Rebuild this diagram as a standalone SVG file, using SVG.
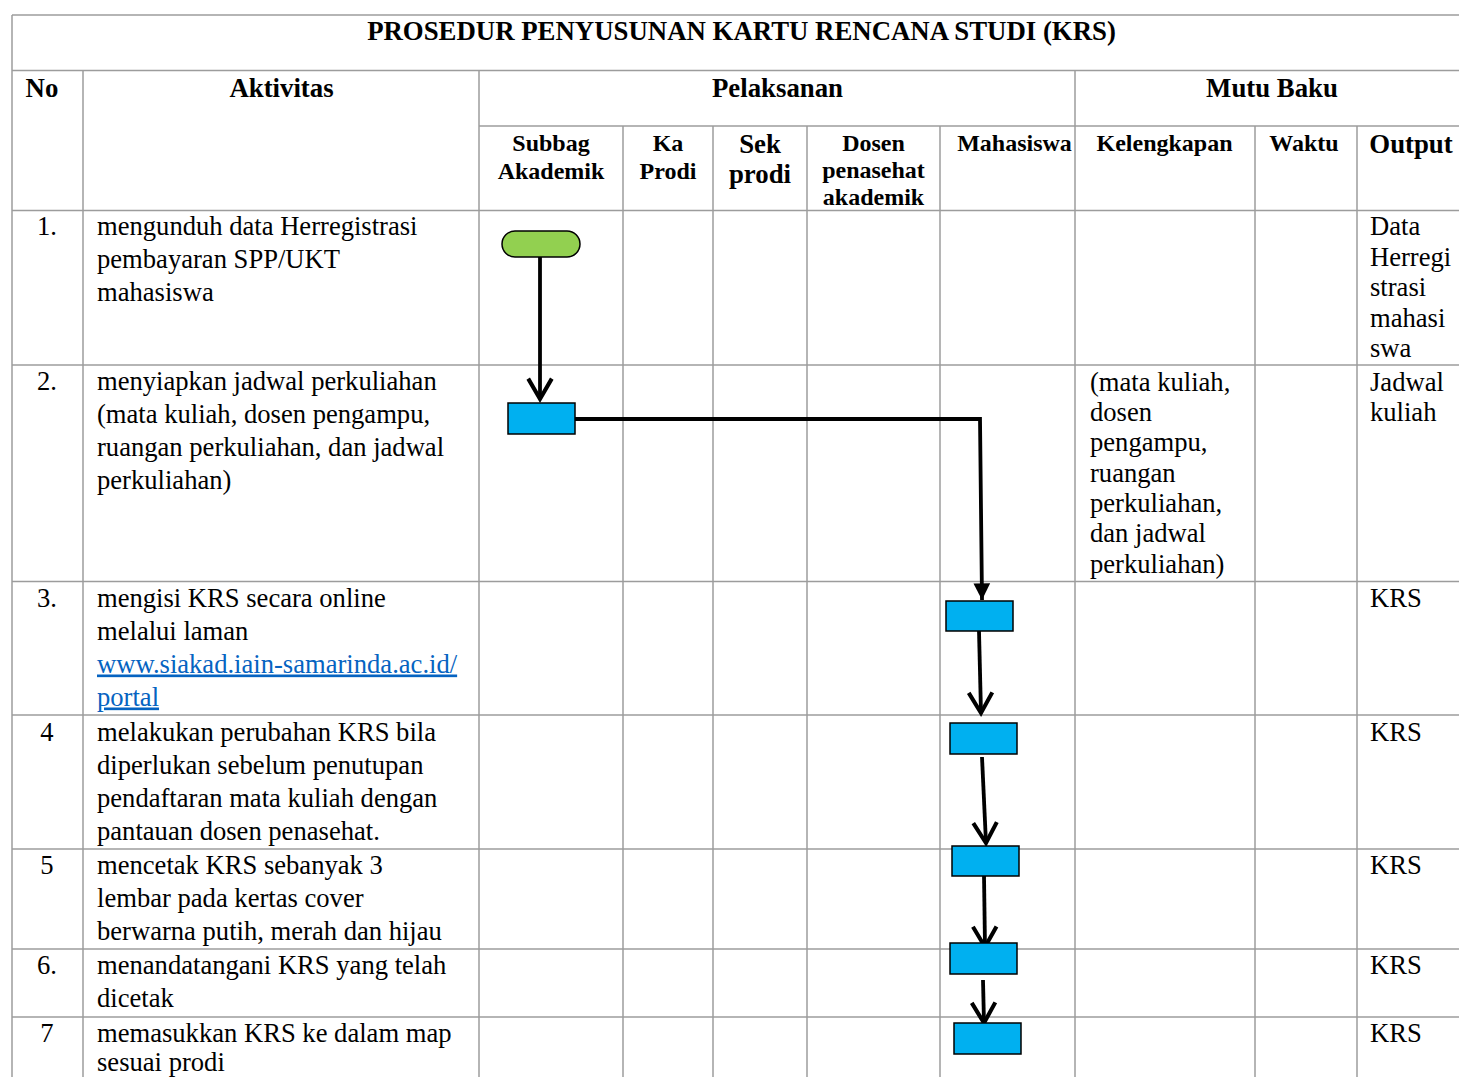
<svg xmlns="http://www.w3.org/2000/svg" width="1459" height="1077" viewBox="0 0 1459 1077">
<style>
.grid line{stroke:#9c9c9c;stroke-width:1.5}
text{font-family:"Liberation Serif","Times New Roman",serif;fill:#000}
.t{font-size:26.6px}
.h{font-size:26.8px;font-weight:bold}
.hs{font-size:24px;font-weight:bold}
.c{text-anchor:middle}
.link{fill:#0563C1;text-decoration:underline}
.proc{fill:#00B0F0;stroke:#000;stroke-width:1.5}
.term{fill:#92D050;stroke:#000;stroke-width:1.5}
.conn{fill:none;stroke:#000;stroke-width:3.8}
</style>
<defs>
<marker id="open" markerUnits="userSpaceOnUse" markerWidth="30" markerHeight="30" refX="0" refY="0" orient="auto" viewBox="-22 -14 26 28" overflow="visible">
<path d="M-19,-11 L0,0 L-19,11" fill="none" stroke="#000" stroke-width="3.8"/>
</marker>
<marker id="solid" markerUnits="userSpaceOnUse" markerWidth="20" markerHeight="20" refX="0" refY="0" orient="auto" viewBox="-16 -9 18 18" overflow="visible">
<path d="M-15,-7.5 L0,0 L-15,7.5 Z" fill="#000"/>
</marker>
</defs>
<rect width="1459" height="1077" fill="#fff"/>
<g class="grid">
<line x1="12" y1="15" x2="1459" y2="15"/>
<line x1="12" y1="70.5" x2="1459" y2="70.5"/>
<line x1="479" y1="126" x2="1459" y2="126"/>
<line x1="12" y1="210.5" x2="1459" y2="210.5"/>
<line x1="12" y1="365" x2="1459" y2="365"/>
<line x1="12" y1="581.5" x2="1459" y2="581.5"/>
<line x1="12" y1="715" x2="1459" y2="715"/>
<line x1="12" y1="849" x2="1459" y2="849"/>
<line x1="12" y1="949" x2="1459" y2="949"/>
<line x1="12" y1="1017" x2="1459" y2="1017"/>
<line x1="12" y1="15" x2="12" y2="1077"/>
<line x1="83" y1="70.5" x2="83" y2="1077"/>
<line x1="479" y1="70.5" x2="479" y2="1077"/>
<line x1="1075" y1="70.5" x2="1075" y2="1077"/>
<line x1="623" y1="126" x2="623" y2="1077"/>
<line x1="713" y1="126" x2="713" y2="1077"/>
<line x1="807" y1="126" x2="807" y2="1077"/>
<line x1="940" y1="126" x2="940" y2="1077"/>
<line x1="1255" y1="126" x2="1255" y2="1077"/>
<line x1="1357" y1="126" x2="1357" y2="1077"/>
</g>
<g id="header">
<text class="h c" x="741.5" y="39.5">PROSEDUR PENYUSUNAN KARTU RENCANA STUDI (KRS)</text>
<text class="h c" x="42" y="96.5">No</text>
<text class="h c" x="281.5" y="96.5">Aktivitas</text>
<text class="h c" x="777.5" y="96.5">Pelaksanan</text>
<text class="h c" x="1272" y="96.5">Mutu Baku</text>
<text class="hs c" x="551" y="151">Subbag</text>
<text class="hs c" x="551" y="179">Akademik</text>
<text class="hs c" x="668" y="151">Ka</text>
<text class="hs c" x="668" y="179">Prodi</text>
<text class="h c" x="760" y="152.5">Sek</text>
<text class="h c" x="760" y="183">prodi</text>
<text class="hs c" x="873.5" y="150.5">Dosen</text>
<text class="hs c" x="873.5" y="178">penasehat</text>
<text class="hs c" x="873.5" y="205">akademik</text>
<text class="hs c" x="1014.5" y="150.5">Mahasiswa</text>
<text class="hs c" x="1164.5" y="150.5">Kelengkapan</text>
<text class="hs c" x="1304" y="150.5">Waktu</text>
<text class="h c" x="1411" y="152.5">Output</text>
</g>
<g id="rows" class="t">
<text class="c" x="47" y="235">1.</text>
<text x="97" y="235">mengunduh data Herregistrasi</text>
<text x="97" y="268">pembayaran SPP/UKT</text>
<text x="97" y="301">mahasiswa</text>
<text x="1370" y="235">Data</text>
<text x="1370" y="265.5">Herregi</text>
<text x="1370" y="296">strasi</text>
<text x="1370" y="326.5">mahasi</text>
<text x="1370" y="357">swa</text>

<text class="c" x="47" y="389.5">2.</text>
<text x="97" y="389.5">menyiapkan jadwal perkuliahan</text>
<text x="97" y="422.5">(mata kuliah, dosen pengampu,</text>
<text x="97" y="455.5">ruangan perkuliahan, dan jadwal</text>
<text x="97" y="488.5">perkuliahan)</text>
<text x="1090" y="390.5">(mata kuliah,</text>
<text x="1090" y="420.8">dosen</text>
<text x="1090" y="451.1">pengampu,</text>
<text x="1090" y="481.5">ruangan</text>
<text x="1090" y="511.8">perkuliahan,</text>
<text x="1090" y="542.1">dan jadwal</text>
<text x="1090" y="572.5">perkuliahan)</text>
<text x="1370" y="390.5">Jadwal</text>
<text x="1370" y="420.8">kuliah</text>

<text class="c" x="47" y="606.5">3.</text>
<text x="97" y="606.5">mengisi KRS secara online</text>
<text x="97" y="639.5">melalui laman</text>
<text class="link" x="97" y="672.5">www.siakad.iain-samarinda.ac.id/</text>
<text class="link" x="97" y="705.5">portal</text>
<text x="1370" y="606.5">KRS</text>

<text class="c" x="47" y="740.5">4</text>
<text x="97" y="740.5">melakukan perubahan KRS bila</text>
<text x="97" y="773.5">diperlukan sebelum penutupan</text>
<text x="97" y="806.5">pendaftaran mata kuliah dengan</text>
<text x="97" y="839.5">pantauan dosen penasehat.</text>
<text x="1370" y="740.5">KRS</text>

<text class="c" x="47" y="873.5">5</text>
<text x="97" y="873.5">mencetak KRS sebanyak 3</text>
<text x="97" y="906.5">lembar pada kertas cover</text>
<text x="97" y="939.5">berwarna putih, merah dan hijau</text>
<text x="1370" y="873.5">KRS</text>

<text class="c" x="47" y="973.5">6.</text>
<text x="97" y="973.5">menandatangani KRS yang telah</text>
<text x="97" y="1006.5">dicetak</text>
<text x="1370" y="973.5">KRS</text>

<text class="c" x="47" y="1041.5">7</text>
<text x="97" y="1041.5">memasukkan KRS ke dalam map</text>
<text x="97" y="1071">sesuai prodi</text>
<text x="1370" y="1041.5">KRS</text>
</g>
<g id="connectors">
<path class="conn" d="M540,257 L540,399" marker-end="url(#open)"/>
<path class="conn" d="M575,419 L980,419 L982,600" stroke-linejoin="miter" marker-end="url(#solid)"/>
<path class="conn" d="M979,631 L981,713" marker-end="url(#open)"/>
<path class="conn" d="M982,757 L986,843" marker-end="url(#open)"/>
<path class="conn" d="M984,875 L985,947" marker-end="url(#open)"/>
<path class="conn" d="M983,980 L984,1023" marker-end="url(#open)"/>
</g>
<g id="n1"><rect class="term" x="502" y="231" width="78" height="26" rx="13"/></g>
<g id="n2"><rect class="proc" x="508" y="403" width="67" height="31"/></g>
<g id="n3"><rect class="proc" x="946" y="601" width="67" height="30"/></g>
<g id="n4"><rect class="proc" x="950" y="723" width="67" height="31"/></g>
<g id="n5"><rect class="proc" x="952" y="846" width="67" height="30"/></g>
<g id="n6"><rect class="proc" x="950" y="943" width="67" height="31"/></g>
<g id="n7"><rect class="proc" x="954" y="1023" width="67" height="31"/></g>
</svg>
